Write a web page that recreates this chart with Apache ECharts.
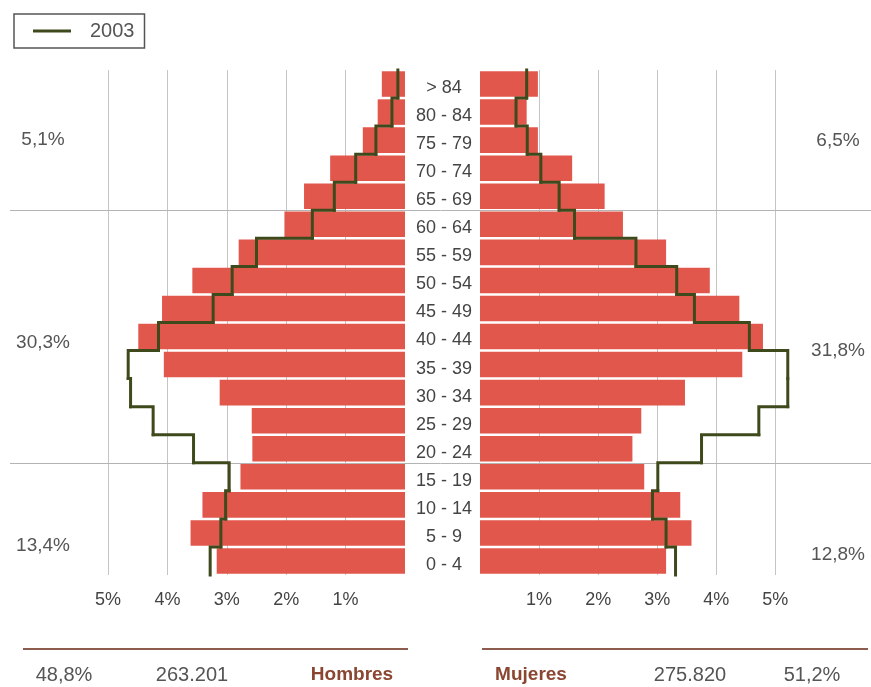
<!DOCTYPE html>
<html>
<head>
<meta charset="utf-8">
<script src="https://cdn.jsdelivr.net/npm/echarts@6/dist/echarts.min.js"></script>
<style>
  html, body { margin: 0; padding: 0; background: #fff; }
  #chart { width: 871px; height: 687px; }
</style>
</head>
<body>
<div id="chart"></div>
<script>
// grupos de edad, de abajo (0 - 4) hacia arriba (> 84)
var ageGroups = ['0 - 4', '5 - 9', '10 - 14', '15 - 19', '20 - 24', '25 - 29', '30 - 34', '35 - 39',
    '40 - 44', '45 - 49', '50 - 54', '55 - 59', '60 - 64', '65 - 69', '70 - 74', '75 - 79', '80 - 84', '> 84'];

// % de la poblacion total
var menBars = [3.17, 3.61, 3.41, 2.77, 2.57, 2.58, 3.12, 4.06, 4.49, 4.09, 3.58, 2.80, 2.03, 1.70, 1.26, 0.71, 0.46, 0.39];
var womenBars = [3.15, 3.58, 3.39, 2.78, 2.58, 2.73, 3.47, 4.44, 4.79, 4.39, 3.89, 3.15, 2.42, 2.11, 1.56, 0.98, 0.79, 0.98];

// perfil 2003
var men2003 = [3.28, 3.10, 3.02, 2.96, 3.56, 4.24, 4.62, 4.66, 4.15, 3.23, 2.91, 2.50, 1.56, 1.19, 0.83, 0.49, 0.22, 0.12];
var women2003 = [3.31, 3.15, 2.92, 3.01, 3.75, 4.72, 5.21, 5.21, 4.56, 3.63, 3.33, 2.64, 1.60, 1.34, 1.03, 0.80, 0.61, 0.79];

// % por grandes grupos: < 15, 15 - 64, 65 y mas
var menGroupShares = ['13,4%', '30,3%', '5,1%'];
var womenGroupShares = ['12,8%', '31,8%', '6,5%'];
var menTotal = ['48,8%', '263.201', 'Hombres'];
var womenTotal = ['Mujeres', '275.820', '51,2%'];

var barColor = '#e2574c';
var lineColor = '#3f4a1c';
var font = '"Liberation Sans", Arial, sans-serif';

var chart = echarts.init(document.getElementById('chart'));

function pctLabel(v) {
    if (v === 0 || Math.round(v) !== v) return '';
    return v + '%';
}

function stepLine(values) {
    return function (params, api) {
        var i = params.dataIndex;
        var p = api.coord([api.value(0), i]);
        var h = api.size([0, 1])[1];
        var pts = [[p[0], p[1] + h / 2], [p[0], p[1] - h / 2]];
        if (i + 1 < values.length) {
            var q = api.coord([values[i + 1], i + 1]);
            pts.push([q[0], p[1] - h / 2]);
        }
        return {
            type: 'polyline',
            shape: { points: pts },
            style: { stroke: lineColor, lineWidth: 3, fill: null, lineCap: 'square', lineJoin: 'miter' }
        };
    };
}

function pairs(values) {
    return values.map(function (v, i) { return [v, i]; });
}

var option = {
    animation: false,
    textStyle: { fontFamily: font },
    legend: {
        left: 14,
        top: 14,
        data: [{ name: '2003', icon: 'rect' }],
        itemWidth: 38,
        itemHeight: 3,
        padding: [7, 10, 7, 19],
        borderColor: '#555',
        borderWidth: 1.5,
        textStyle: { fontSize: 20, color: '#555', padding: [0, 0, 0, 14] }
    },
    grid: [
        { left: 108, right: 466, top: 70, bottom: 112 },
        { left: 480, right: 72, top: 70, bottom: 112 }
    ],
    xAxis: [
        {
            type: 'value', gridIndex: 0, inverse: true, min: 0, max: 5, interval: 1,
            axisLine: { show: false }, axisTick: { show: false },
            splitLine: { show: true, showMinLine: false, lineStyle: { color: '#c4c4c4', width: 1 } },
            axisLabel: { formatter: pctLabel, fontSize: 18, color: '#444', margin: 16 }
        },
        {
            type: 'value', gridIndex: 1, min: 0, max: 5.4, interval: 1,
            axisLine: { show: false }, axisTick: { show: false },
            splitLine: { show: true, showMinLine: false, showMaxLine: false, lineStyle: { color: '#c4c4c4', width: 1 } },
            axisLabel: { formatter: pctLabel, fontSize: 18, color: '#444', margin: 16, showMaxLabel: false }
        }
    ],
    yAxis: [
        {
            type: 'category', gridIndex: 0, data: ageGroups,
            axisLine: { show: false }, axisTick: { show: false }, axisLabel: { show: false }
        },
        {
            type: 'category', gridIndex: 1, data: ageGroups,
            axisLine: { show: false }, axisTick: { show: false },
            axisLabel: { fontSize: 18, color: '#444', align: 'center', margin: 36, verticalAlign: 'top', lineHeight: 8 }
        }
    ],
    series: [
        {
            name: 'Hombres', type: 'bar', xAxisIndex: 0, yAxisIndex: 0,
            data: menBars, barCategoryGap: '9%', itemStyle: { color: barColor }
        },
        {
            name: 'Mujeres', type: 'bar', xAxisIndex: 1, yAxisIndex: 1,
            data: womenBars, barCategoryGap: '9%', itemStyle: { color: barColor }
        },
        {
            name: '2003', type: 'custom', xAxisIndex: 0, yAxisIndex: 0, z: 5,
            data: pairs(men2003), encode: { x: 0, y: 1 },
            itemStyle: { color: lineColor },
            renderItem: stepLine(men2003)
        },
        {
            name: '2003', type: 'custom', xAxisIndex: 1, yAxisIndex: 1, z: 5,
            data: pairs(women2003), encode: { x: 0, y: 1 },
            itemStyle: { color: lineColor },
            renderItem: stepLine(women2003)
        }
    ]
};

chart.setOption(option);

// lineas horizontales entre grandes grupos (15 / 20 y 60 / 65)
function boundaryY(lower) {
    var a = chart.convertToPixel({ yAxisIndex: 0 }, lower);
    var b = chart.convertToPixel({ yAxisIndex: 0 }, lower + 1);
    return (a + b) / 2;
}

var graphics = [];
[3, 12].forEach(function (k) {
    var y = Math.round(boundaryY(k)) + 0.5;
    graphics.push({
        type: 'line', z: 1, silent: true,
        shape: { x1: 10, y1: y, x2: 871, y2: y },
        style: { stroke: '#b4b4b4', lineWidth: 1 }
    });
});

var shareY = [546, 343, 140];
menGroupShares.forEach(function (t, i) {
    graphics.push({
        type: 'text', x: 43, y: shareY[i],
        style: { text: t, font: '19px ' + font, fill: '#555', align: 'center', verticalAlign: 'middle' }
    });
});
var shareYRight = [555, 351, 141];
womenGroupShares.forEach(function (t, i) {
    graphics.push({
        type: 'text', x: 838, y: shareYRight[i],
        style: { text: t, font: '19px ' + font, fill: '#555', align: 'center', verticalAlign: 'middle' }
    });
});

// totales al pie
graphics.push({
    type: 'line', silent: true,
    shape: { x1: 23, y1: 649, x2: 408, y2: 649 },
    style: { stroke: '#8c5c4e', lineWidth: 2 }
});
graphics.push({
    type: 'line', silent: true,
    shape: { x1: 482, y1: 649, x2: 868, y2: 649 },
    style: { stroke: '#8c5c4e', lineWidth: 2 }
});
var menX = [64, 192, 352];
var womenX = [531, 690, 812];
menTotal.forEach(function (t, i) {
    var bold = i === 2;
    graphics.push({
        type: 'text', x: menX[i], y: 675,
        style: {
            text: t, font: (bold ? 'bold 19px ' : '20px ') + font,
            fill: bold ? '#8a4630' : '#555', align: 'center', verticalAlign: 'middle'
        }
    });
});
womenTotal.forEach(function (t, i) {
    var bold = i === 0;
    graphics.push({
        type: 'text', x: womenX[i], y: 675,
        style: {
            text: t, font: (bold ? 'bold 19px ' : '20px ') + font,
            fill: bold ? '#8a4630' : '#555', align: 'center', verticalAlign: 'middle'
        }
    });
});

chart.setOption({ graphic: graphics });
</script>
</body>
</html>
